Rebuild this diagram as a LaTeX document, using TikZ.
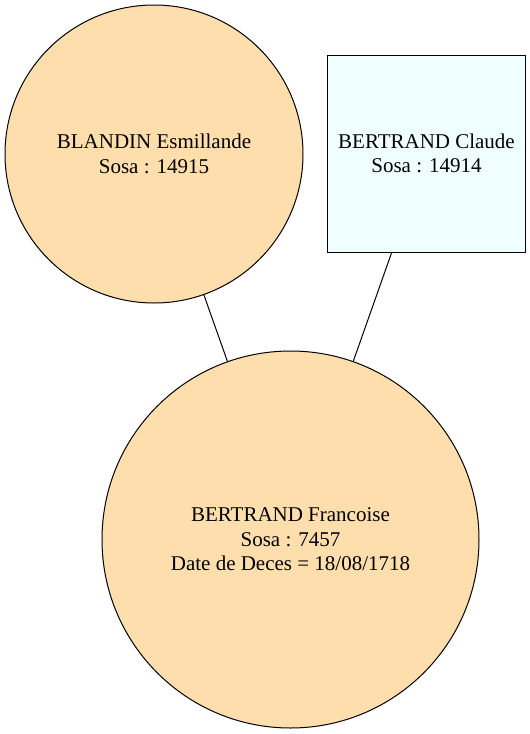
\documentclass[tikz,border=0pt]{standalone}
\usepackage{fontspec}
\setmainfont{Liberation Serif}
\definecolor{navajo}{HTML}{FFDEAD}
\definecolor{azurefill}{HTML}{F0FFFF}
\begin{document}
\begin{tikzpicture}[x=1pt,y=-1pt,
  person/.style={draw=black,line width=1pt,inner sep=0pt,align=center,
    font=\fontsize{21}{24.5}\selectfont},
  female/.style={person,circle,fill=navajo},
  male/.style={person,rectangle,fill=azurefill},
  link/.style={draw=black,line width=1pt}]
\useasboundingbox (0,0) rectangle (530,734);
\node[female,minimum size=298pt] (blandin) at (154,154) {BLANDIN Esmillande\\Sosa : 14915};
\node[male,minimum width=198pt,minimum height=197pt] (claude) at (426.5,153.5) {BERTRAND Claude\\Sosa : 14914};
\node[female,minimum size=377pt] (francoise) at (290.5,539.5) {BERTRAND Francoise\\Sosa : 7457\\Date de Deces = 18/08/1718};
\draw[link] (blandin) -- (francoise);
\draw[link] (claude) -- (francoise);
\end{tikzpicture}
\end{document}
